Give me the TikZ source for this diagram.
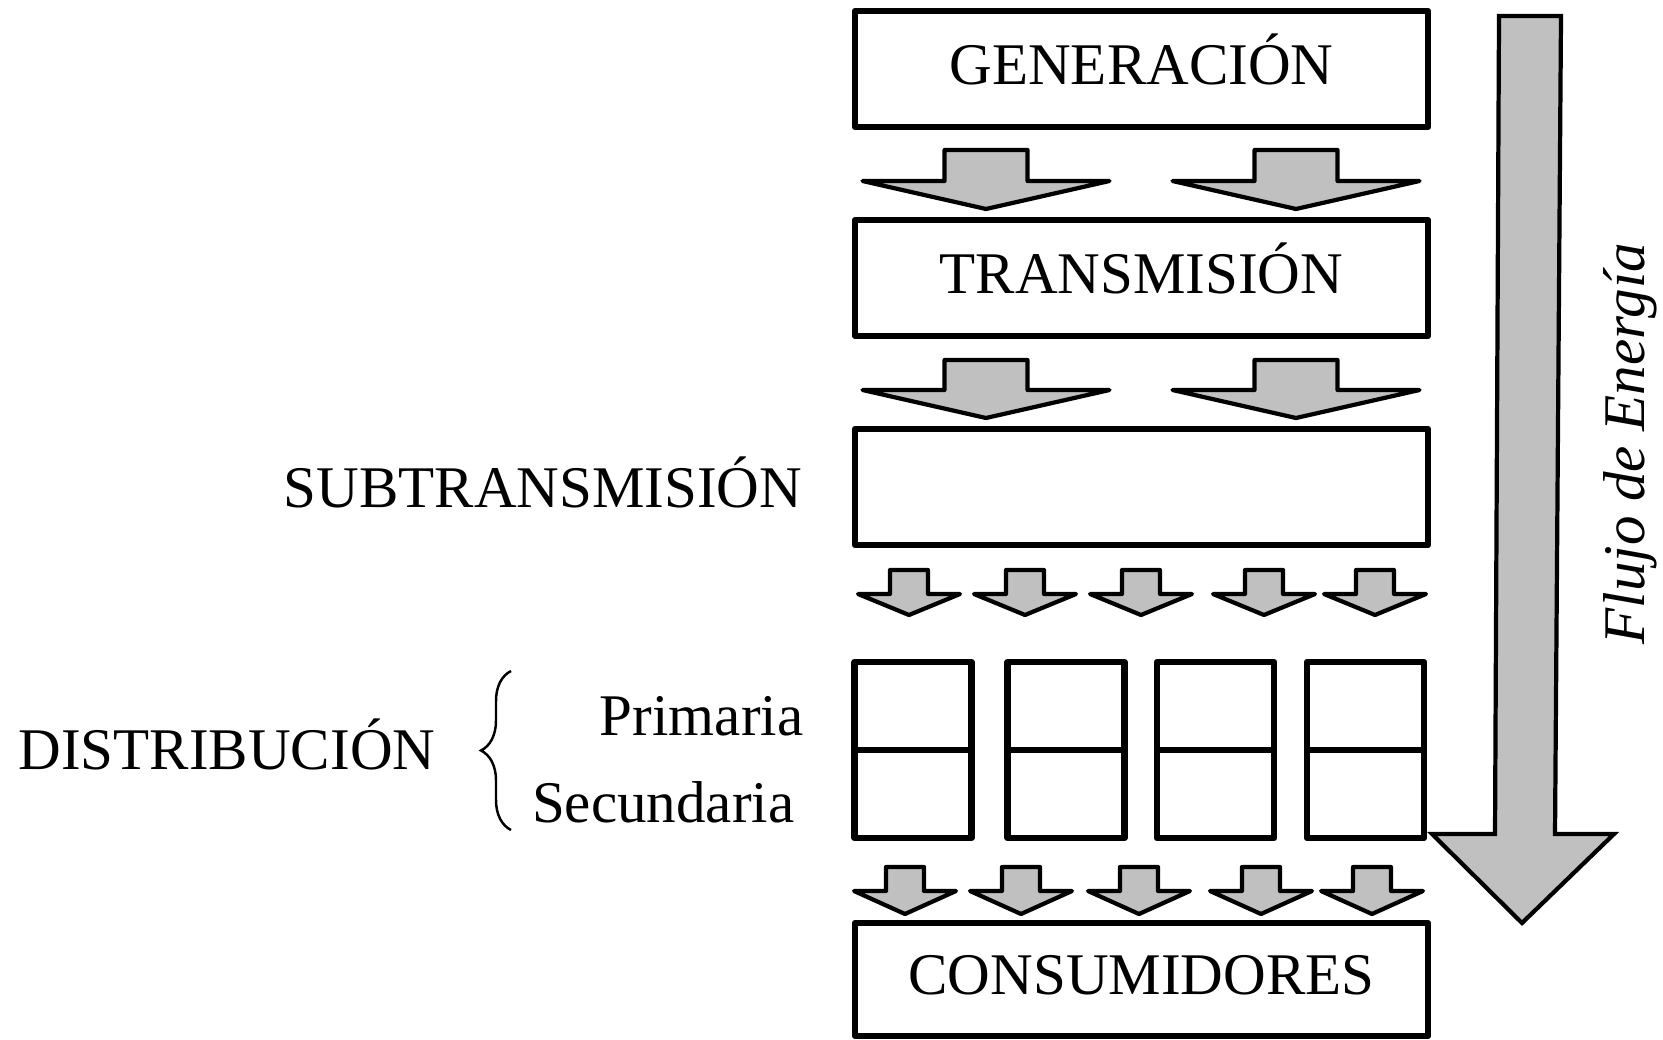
\documentclass[tikz,border=0pt]{standalone}
\usepackage{fontspec}
\setmainfont{Liberation Serif}
\usepackage{xcolor}
\usepackage{tikz}
\usetikzlibrary{calc,decorations.pathreplacing}
\definecolor{ink}{HTML}{000000}
\definecolor{flowgray}{HTML}{C0C0C0}
\newcommand{\bigfont}{\fontsize{16.8}{20}\selectfont}
\tikzset{
  box/.style={draw=ink, line width=1.8pt, line join=round, minimum width=5.73cm, minimum height=1.16cm,
    inner sep=0pt, text height=0.88em, text depth=0pt, font=\bigfont},
  cell/.style={draw=ink, line width=1.8pt, line join=round, minimum width=1.17cm, minimum height=1.76cm, inner sep=0pt},
  flow/.style={draw=ink, fill=flowgray, line width=1.2pt, line cap=round, line join=round},
  lab/.style={text=ink, font=\bigfont, inner sep=0pt},
}
% center x, top y, wing y, tip y, half body, half wing
\newcommand{\flowarrow}[6]{%
  \draw[flow] (#1-#5,#2) -- (#1+#5,#2) -- (#1+#5,#3) -- (#1+#6,#3) -- (#1,#4)
    -- (#1-#6,#3) -- (#1-#5,#3) -- cycle;}

\begin{document}
\begin{tikzpicture}
  \useasboundingbox (0,0) rectangle (16.63,-10.40);

  \node[box] (gen)   at (11.415,-0.69) {GENERACIÓN};
  \node[box] (trans) at (11.415,-2.78) {TRANSMISIÓN};
  \node[box] (subt)  at (11.415,-4.87) {};
  \node[box, minimum height=1.13cm] (cons) at (11.415,-9.795) {CONSUMIDORES};

  % distribution cells
  \foreach \x [count=\i] in {9.13,10.66,12.155,13.655} {
    \node[cell] (d\i) at (\x,-7.50) {};
    \draw[line width=1.8pt] (d\i.west) -- (d\i.east);
  }

  % flow arrows between levels
  \foreach \x in {9.86,12.96} {
    \flowarrow{\x}{-1.50}{-1.81}{-2.09}{0.415}{1.235}
    \flowarrow{\x}{-3.60}{-3.90}{-4.18}{0.415}{1.235}
  }
  \foreach \x in {9.09,10.25,11.41,12.64,13.75} {
    \flowarrow{\x}{-5.70}{-5.94}{-6.15}{0.19}{0.51}
  }
  \foreach \x in {9.05,10.21,11.39,12.61,13.72} {
    \flowarrow{\x}{-8.67}{-8.91}{-9.14}{0.19}{0.51}
  }

  % energy flow
  \draw[flow, line cap=butt, line join=miter] (14.99,-0.16) -- (15.61,-0.16) -- (15.55,-8.34) -- (16.14,-8.34)
    -- (15.22,-9.23) -- (14.32,-8.34) -- (14.95,-8.34) -- cycle;
  \node[lab, rotate=90, anchor=base west, font=\bigfont\itshape] (flujo) at (16.44,-6.45) {Flujo de Energía};

  % level names
  \node[lab, anchor=base east] (subtlab) at (8.03,-5.08) {SUBTRANSMISIÓN};
  \node[lab, anchor=base west] (distlab) at (0.18,-7.69) {DISTRIBUCIÓN};
  \node[lab, anchor=base east] (prim) at (8.04,-7.35) {Primaria};
  \node[lab, anchor=base east] (sec)  at (7.95,-8.22) {Secundaria};
  \draw[line width=0.7pt, decorate, decoration={brace, amplitude=0.3cm}] (5.11,-8.30) -- (5.11,-6.71);
\end{tikzpicture}
\end{document}
